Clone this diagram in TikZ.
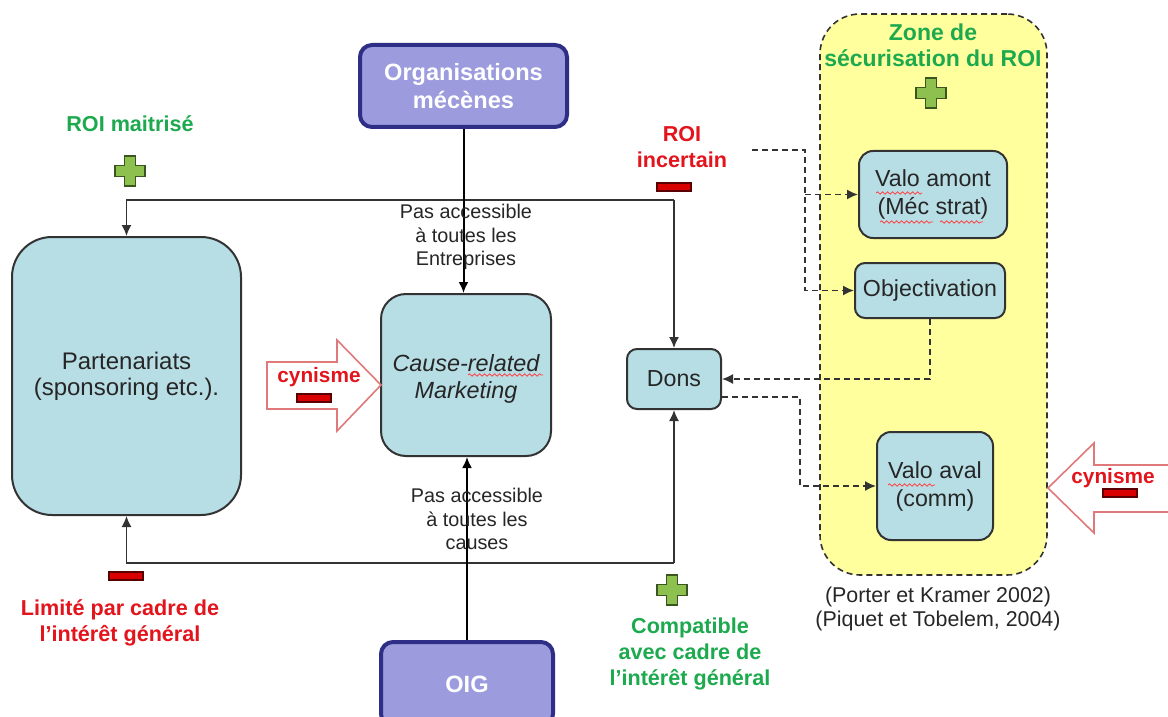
\documentclass[tikz,border=0pt]{standalone}
\usepackage{fontspec}
\setmainfont{Liberation Sans}
\usetikzlibrary{arrows.meta,decorations.pathmorphing,calc}
\definecolor{boxteal}{HTML}{B8DEE5}
\definecolor{purplefill}{HTML}{9B9BDD}
\definecolor{purpleline}{HTML}{2E2E86}
\definecolor{zoneyellow}{HTML}{FFFF9E}
\definecolor{grn}{HTML}{1DAA4E}
\definecolor{rd}{HTML}{E3141C}
\definecolor{plusfill}{HTML}{8DC04F}
\definecolor{plusline}{HTML}{3A5520}
\definecolor{minfill}{HTML}{D90000}
\definecolor{minline}{HTML}{5A0000}
\definecolor{cynline}{HTML}{E07A7A}
\definecolor{lineclr}{HTML}{333333}
\begin{document}
\begin{tikzpicture}[x=0.5pt,y=-0.5pt,
  bluebox/.style={draw=black!80, line width=1pt, fill=boxteal, align=center, text=black!85, font=\fontsize{11.6}{14}\selectfont, inner sep=0pt},
  purplebox/.style={draw=purpleline, line width=2pt, fill=purplefill, text=white, font=\bfseries\fontsize{11.8}{14}\selectfont, align=center, inner sep=0pt},
  conn/.style={draw=lineclr, line width=0.8pt, -{Latex[length=5.5pt,width=5pt]}},
  bconn/.style={draw=black, line width=1pt, -{Latex[length=5.5pt,width=5pt]}},
  dconn/.style={conn, dash pattern=on 3pt off 2pt},
  note/.style={font=\fontsize{9.9}{11.8}\selectfont, align=center, text=black!85},
  grnlbl/.style={font=\bfseries\fontsize{10.8}{13}\selectfont, align=center, text=grn},
  redlbl/.style={font=\bfseries\fontsize{10.8}{13}\selectfont, align=center, text=rd},
  cynarrow/.style={draw=cynline, fill=white, line width=0.8pt},
  squig/.style={draw=red!75, line width=0.4pt, decorate, decoration={snake, amplitude=0.6pt, segment length=2.5pt}},
  plusmark/.pic={\draw[draw=plusline, fill=plusfill, line width=0.6pt] (-5.5,-15) -- (5.5,-15) -- (5.5,-5.5) -- (15,-5.5) -- (15,5.5) -- (5.5,5.5) -- (5.5,15) -- (-5.5,15) -- (-5.5,5.5) -- (-15,5.5) -- (-15,-5.5) -- (-5.5,-5.5) -- cycle;},
  minusmark/.pic={\draw[draw=minline, fill=minfill, line width=0.6pt] (-17,-4) rectangle (17,4);}
]
\useasboundingbox (0,0) rectangle (1168,717);
\clip (0,0) rectangle (1168,717);
\fill[white] (0,0) rectangle (1168,717);

% zone
\node[draw=black!80, line width=0.8pt, dash pattern=on 3pt off 2pt, fill=zoneyellow, rounded corners=20pt, minimum width=113.5pt, minimum height=280.5pt, inner sep=0pt] (zone) at (933.5,294.5) {};
\node[grnlbl, font=\bfseries\fontsize{11.5}{13}\selectfont] (zonetitle) at (933,45) {Zone de\\sécurisation du ROI};
\pic at (931,93) {plusmark};

% boxes
\node[purplebox, rounded corners=6pt, minimum width=103.5pt, minimum height=41pt] (mec) at (463.5,86) {Organisations\\mécènes};
\node[purplebox, rounded corners=6pt, minimum width=86pt, minimum height=42pt] (oig) at (467,684) {OIG};
\node[bluebox, rounded corners=20pt, minimum width=114.5pt, minimum height=139pt, font=\fontsize{12}{13.2}\selectfont] (part) at (126.5,376) {Partenariats\\(sponsoring etc.).};
\node[bluebox, rounded corners=12.5pt, minimum width=85pt, minimum height=81pt] (crm) at (466,375) {};
\node[font=\itshape\fontsize{11.7}{13.5}\selectfont, align=center, text=black!85] (crmtext) at (466,379) {Cause-related\\Marketing};
\node[bluebox, rounded corners=5pt, minimum width=47pt, minimum height=30pt] (dons) at (674,379) {Dons};
\node[bluebox, rounded corners=7pt, minimum width=74pt, minimum height=43.5pt] (valoam) at (933,194.5) {Valo amont\\(Méc strat)};
\node[bluebox, rounded corners=5pt, minimum width=75pt, minimum height=27.5pt] (obj) at (930,290.5) {Objectivation};
\node[bluebox, rounded corners=7pt, minimum width=58pt, minimum height=54pt] (valoav) at (935,486) {Valo aval\\(comm)};

% spellcheck squiggles
\draw[squig] (468,375) -- (543,375);
\draw[squig] (876,193) -- (922,193);
\draw[squig] (880,222) -- (933,222);
\draw[squig] (940,222) -- (983,222);
\draw[squig] (888,485) -- (935,485);

% solid connectors
\coordinate (tj) at (674,200);
\coordinate (bj) at (674,563);
\draw[conn] (tj) -| (part.north);
\draw[conn] (tj) -- (dons.north);
\draw[conn] (bj) -| (part.south);
\draw[conn] (bj) -- (dons.south);
\draw[bconn] (mec.south) -- (mec.south |- crm.north);
\draw[bconn] (oig.north) -- (oig.north |- crm.south);

% notes
\node[note] (n1) at (466,237) {Pas accessible\\à toutes les\\Entreprises};
\node[note] (n2) at (477,519) {Pas accessible\\à toutes les\\causes};

% dashed connectors
\coordinate (rs) at (752,150);
\coordinate (ck) at (805,150);
\draw[dconn] (rs) -- (ck) |- (obj.west);
\draw[dconn] (ck |- valoam.west) -- (valoam.west);
\draw[dconn] (obj.south) |- (dons.east);
\coordinate (dk) at (800,397);
\draw[dconn] (dons.east |- dk) -- (dk) |- (valoav.west);

% labels
\node[grnlbl] (roim) at (130,124) {ROI maitrisé};
\pic at (130,171) {plusmark};
\node[redlbl] (roii) at (682,147) {ROI\\incertain};
\pic at (674,187) {minusmark};
\pic at (126,576) {minusmark};
\node[redlbl] (lim) at (120,623) {Limité par cadre de\\l’intérêt général};
\pic at (672,590) {plusmark};
\node[grnlbl] (comp) at (690,654) {Compatible\\avec cadre de\\l’intérêt général};
\node[font=\fontsize{10.7}{12}\selectfont, align=center, text=black!85] (cite) at (938,609) {(Porter et Kramer 2002)\\(Piquet et Tobelem, 2004)};

% cynisme arrows
\draw[cynarrow] (267,362) -- (337,362) -- (337,340) -- (381,385) -- (337,431) -- (337,409) -- (267,409) -- cycle;
\node[redlbl, font=\bfseries\fontsize{10.4}{12}\selectfont] (cyn1) at (319,377) {cynisme};
\pic at (314,398) {minusmark};
\draw[cynarrow] (1180,465) -- (1094,465) -- (1094,443) -- (1048,488) -- (1094,533) -- (1094,512) -- (1180,512);
\node[redlbl, font=\bfseries\fontsize{10.4}{12}\selectfont] (cyn2) at (1113,478) {cynisme};
\pic at (1120,493) {minusmark};
\end{tikzpicture}
\end{document}
